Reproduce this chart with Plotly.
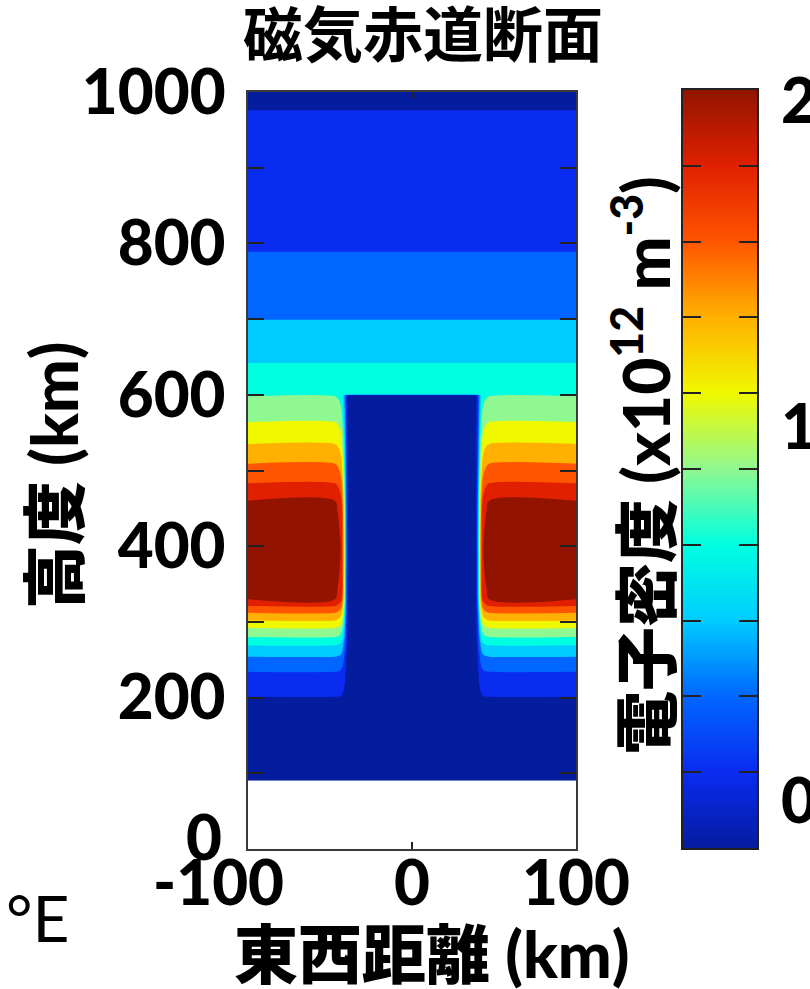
import numpy as np
import plotly.graph_objects as go

# Undisturbed electron-density profile (10^12 m^-3) against altitude (km)
alt_km = [90, 150, 201, 234, 254, 269, 280, 292, 302, 312, 321, 330, 395,
          460, 483, 509, 535, 564, 598, 599, 601, 642, 699, 789, 976, 1000]
density = [0.02, 0.05, 0.10, 0.30, 0.50, 0.70, 0.90, 1.10, 1.30, 1.50, 1.70, 1.90, 2.05,
           1.90, 1.70, 1.50, 1.30, 1.10, 0.90, 0.895, 0.885, 0.70, 0.50, 0.30, 0.10, 0.08]

# East-west shape of the plasma bubble: fraction of the background density kept
ew_km = [-100, -47, -45.5, -44, -43, -42, -41, -40, -39, -38, 0,
         38, 39, 40, 41, 42, 43, 44, 45.5, 47, 100]
bubble_factor = [1.0, 1.0, 0.985, 0.95, 0.90, 0.75, 0.50, 0.20, 0.05, 0.0, 0.0,
                 0.0, 0.05, 0.20, 0.50, 0.75, 0.90, 0.95, 0.985, 1.0, 1.0]
bubble_top_km = 600

# Colour scale (jet) and its scale range
jet_colors = ["#041c9e", "#0a2bf0", "#0066ff", "#00ccff", "#00ffe0", "#90f890",
              "#f0f800", "#ffb000", "#ff5500", "#e02000", "#921400"]
cb_min, cb_max, cb_step = 0.0, 2.0, 0.2
cb_labels = ["2", "1", "0"]

y_ticks = list(range(0, 1001, 100))
# the bottom label "0" sits a little higher, it is placed separately below
y_ticktext = [str(v) if (v % 200 == 0 and v > 0) else "" for v in y_ticks]
x_ticks = [-100, 0, 100]
# the minus sign hangs to the left of the centred "100"
x_ticktext = ["-100\u00a0\u00a0\u00a0\u00a0", "0", "100"]

W, H = 810, 989
def px(x):
    return x / W
def py(y):
    return 1 - y / H

colorscale = [[i / (len(jet_colors) - 1), c] for i, c in enumerate(jet_colors)]

field = [[d * (f if a < bubble_top_km else 1.0) for f in bubble_factor]
         for a, d in zip(alt_km, density)]

LATIN = "Lato, 'Noto Sans CJK JP', sans-serif"
CJK = "'Noto Sans CJK JP', sans-serif"
FRAME = "#3a3a3a"

fig = go.Figure()
fig.add_trace(go.Contour(
    x=ew_km, y=alt_km, z=field,
    colorscale=colorscale,
    contours=dict(start=cb_min + cb_step / 2, end=cb_max - cb_step / 2, size=cb_step,
                  coloring="fill", showlines=False),
    line=dict(width=0),
    showscale=False,
    xaxis="x", yaxis="y",
))

# Colour bar drawn as a one-column heatmap so it can carry ticks on both edges
cb_vals = np.linspace(cb_min, cb_max, 401)
fig.add_trace(go.Heatmap(
    x=[0], y=cb_vals, z=[[v] for v in cb_vals],
    colorscale=colorscale, zmin=cb_min, zmax=cb_max,
    showscale=False, xaxis="x2", yaxis="y2", hoverinfo="skip",
))

tickfont = dict(family=LATIN, size=62, color="black", weight=900)

fig.update_layout(
    width=W, height=H, autosize=False,
    margin=dict(l=0, r=0, t=0, b=0, autoexpand=False),
    paper_bgcolor="white", plot_bgcolor="white",
    showlegend=False,
    xaxis=dict(domain=[px(248), px(576)], range=[-100, 100], automargin=False,
               tickvals=x_ticks, ticktext=x_ticktext, tickfont=tickfont,
               ticks="inside", ticklen=7, tickwidth=2, tickcolor="#222",
               showline=True, linecolor=FRAME, linewidth=2, mirror="ticks",
               showgrid=False, zeroline=False, anchor="y",
               ticklabelstandoff=-20),
    yaxis=dict(domain=[py(849), py(92)], range=[0, 1000], automargin=False,
               tickvals=y_ticks, ticktext=y_ticktext, tickfont=tickfont,
               ticks="inside", ticklen=16, tickwidth=2, tickcolor="#222",
               showline=True, linecolor=FRAME, linewidth=2, mirror="ticks",
               showgrid=False, zeroline=False, anchor="x",
               ticklabelstandoff=8),
    xaxis2=dict(domain=[px(683), px(757)], range=[-0.5, 0.5], automargin=False,
                showticklabels=False, ticks="",
                showline=True, linecolor="#222", linewidth=2, mirror=True,
                showgrid=False, zeroline=False, anchor="y2"),
    yaxis2=dict(domain=[py(848), py(90)], range=[cb_min, cb_max], automargin=False,
                tickvals=list(np.round(np.arange(cb_min, cb_max + 1e-9, cb_step), 2)),
                showticklabels=False,
                ticks="inside", ticklen=18, tickwidth=1.5, tickcolor="#222",
                showline=True, linecolor="#222", linewidth=2, mirror="ticks",
                showgrid=False, zeroline=False, anchor="x2"),
)

ann = []
ann.append(dict(text="磁気赤道断面", x=px(423), y=py(31), xref="paper", yref="paper",
                showarrow=False, xanchor="center", yanchor="middle",
                font=dict(family=CJK, size=60, color="black", weight="bold")))
ann.append(dict(text="高度 (km)", x=px(53), y=py(475), xref="paper", yref="paper",
                showarrow=False, textangle=-90, xanchor="center", yanchor="middle",
                font=dict(family=LATIN, size=64, color="black", weight=900)))
ann.append(dict(text="東西距離 (km)", x=px(432), y=py(953), xref="paper", yref="paper",
                showarrow=False, xanchor="center", yanchor="middle",
                font=dict(family=LATIN, size=64, color="black", weight=900)))
ann.append(dict(text="電子密度 (x10<sup>12</sup> m<sup>-3</sup>)", x=px(642), y=py(466),
                xref="paper", yref="paper",
                showarrow=False, textangle=-90, xanchor="center", yanchor="middle",
                font=dict(family=LATIN, size=64, color="black", weight=900)))
ann.append(dict(text="°E", x=px(38), y=py(917), xref="paper", yref="paper",
                showarrow=False, xanchor="center", yanchor="middle",
                font=dict(family=LATIN, size=64, color="black")))
ann.append(dict(text="0", x=px(224), y=py(836), xref="paper", yref="paper",
                showarrow=False, xanchor="right", yanchor="middle",
                font=tickfont))
for lab, yy in zip(cb_labels, [99, 425, 799]):
    ann.append(dict(text=lab, x=px(779), y=py(yy), xref="paper", yref="paper",
                    showarrow=False, xanchor="left", yanchor="middle",
                    font=dict(family=LATIN, size=62, color="black", weight=900)))
fig.update_layout(annotations=ann)

fig.write_html("out.html")
